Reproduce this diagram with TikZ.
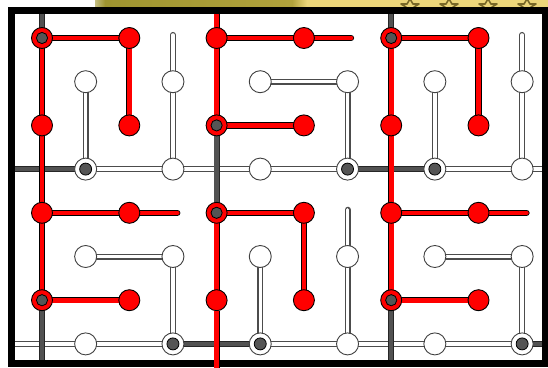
\documentclass[tikz,border=0pt]{standalone}
\definecolor{gline}{RGB}{82,82,82}
\definecolor{gdot}{RGB}{85,85,85}
\definecolor{olive1}{RGB}{158,148,48}
\definecolor{olive2}{RGB}{176,162,60}
\definecolor{yel}{RGB}{236,214,122}
\definecolor{starc}{RGB}{120,104,40}
\pgfdeclarelayer{back}
\pgfdeclarelayer{wl}
\pgfdeclarelayer{gl}
\pgfdeclarelayer{rl}
\pgfdeclarelayer{fg}
\pgfsetlayers{back,wl,gl,rl,main,fg}
\tikzset{
  redline/.style={draw=black, line width=0.8pt, double=red, double distance=4.6pt, line cap=round, line join=round},
  whiteline/.style={draw=black!70, line width=1.3pt, double=white, double distance=3.4pt, line cap=round, line join=round},
  grayline/.style={draw=black!85, line width=0.8pt, double=gline, double distance=4.4pt},
  rn/.style={circle, fill=red, draw=black, line width=0.9pt, minimum size=21pt, inner sep=0pt},
  rg/.style={rn, path picture={\fill[gdot, draw=black, line width=0.8pt] (path picture bounding box.center) circle (5.6pt);}},
  wn/.style={circle, fill=white, draw=black!75, line width=0.9pt, minimum size=22pt, inner sep=0pt},
  wg/.style={wn, path picture={\fill[gdot, draw=black, line width=0.8pt] (path picture bounding box.center) circle (6pt);}},
  frame/.style={draw=black, line width=7pt}
}
\begin{document}
\begin{tikzpicture}[x=1pt, y=-1pt]
\useasboundingbox (0,0) rectangle (548,367);
\begin{pgfonlayer}{back}
\fill[white] (0,0) rectangle (548,367);
% screenshot band above the frame
\shade[left color=olive1!60!white, right color=olive1] (95,0) rectangle (105,7);
\shade[left color=olive1, right color=olive2] (105,0) rectangle (292,7);
\shade[left color=olive2, right color=yel] (292,0) rectangle (307,7);
\fill[yel] (307,0) rectangle (548,7);
\begin{scope}
\clip (380,0) rectangle (548,7);
\foreach \sx in {410,449,488,527}{
  \draw[starc, line width=1.6pt, line join=round] (\sx,-1)
    -- ++(-3,5) -- ++(-6,0) -- ++(5,3) -- ++(-2,6) -- ++(6,-4) -- ++(6,4) -- ++(-2,-6) -- ++(5,-3) -- ++(-6,0) -- cycle;
}
\end{scope}
\end{pgfonlayer}
% frame reference coordinates
\coordinate (T) at (0,10.5);
\coordinate (B) at (0,363.5);
\coordinate (Bimg) at (0,368);
\coordinate (L) at (11.5,0);
\coordinate (R) at (545,0);
\begin{scope}[shift={(42,38)}, x=43.65pt, y=-43.7pt]
% ---- nodes ----
\path
  (0,0) node[rg] (c0r0) {} (2,0) node[rn] (c2r0) {} (4,0) node[rn] (c4r0) {}
  (6,0) node[rn] (c6r0) {} (8,0) node[rg] (c8r0) {} (10,0) node[rn] (c10r0) {}
  (1,1) node[wn] (c1r1) {} (3,1) node[wn] (c3r1) {} (5,1) node[wn] (c5r1) {}
  (7,1) node[wn] (c7r1) {} (9,1) node[wn] (c9r1) {} (11,1) node[wn] (c11r1) {}
  (0,2) node[rn] (c0r2) {} (2,2) node[rn] (c2r2) {} (4,2) node[rg] (c4r2) {}
  (6,2) node[rn] (c6r2) {} (8,2) node[rn] (c8r2) {} (10,2) node[rn] (c10r2) {}
  (1,3) node[wg] (c1r3) {} (3,3) node[wn] (c3r3) {} (5,3) node[wn] (c5r3) {}
  (7,3) node[wg] (c7r3) {} (9,3) node[wg] (c9r3) {} (11,3) node[wn] (c11r3) {}
  (0,4) node[rn] (c0r4) {} (2,4) node[rn] (c2r4) {} (4,4) node[rg] (c4r4) {}
  (6,4) node[rn] (c6r4) {} (8,4) node[rn] (c8r4) {} (10,4) node[rn] (c10r4) {}
  (1,5) node[wn] (c1r5) {} (3,5) node[wn] (c3r5) {} (5,5) node[wn] (c5r5) {}
  (7,5) node[wn] (c7r5) {} (9,5) node[wn] (c9r5) {} (11,5) node[wn] (c11r5) {}
  (0,6) node[rg] (c0r6) {} (2,6) node[rn] (c2r6) {} (4,6) node[rn] (c4r6) {}
  (6,6) node[rn] (c6r6) {} (8,6) node[rg] (c8r6) {} (10,6) node[rn] (c10r6) {}
  (1,7) node[wn] (c1r7) {} (3,7) node[wg] (c3r7) {} (5,7) node[wg] (c5r7) {}
  (7,7) node[wn] (c7r7) {} (9,7) node[wn] (c9r7) {} (11,7) node[wg] (c11r7) {};
% free ends
\coordinate (e3t) at (3,-0.07);
\coordinate (e11t) at (11,-0.07);
\coordinate (e7t) at (7,3.93);
\coordinate (e0r) at (7.08,0);
\coordinate (e4r) at (3.1,4);
\coordinate (e4r2) at (11.1,4);
\end{scope}
% ---- white tree ----
\begin{pgfonlayer}{wl}
\draw[whiteline] (c1r1.center) -- (c1r3.center);
\draw[whiteline] (e3t) -- (c3r1.center) -- (c3r3.center);
\draw[whiteline] (c1r3.center) -- (c7r3.center);
\draw[whiteline, line cap=butt] (c9r3.center) -- (c11r3.center) -- (c11r3 -| R);
\draw[whiteline] (c5r1.center) -- (c7r1.center) -- (c7r3.center);
\draw[whiteline] (c9r1.center) -- (c9r3.center);
\draw[whiteline] (e11t) -- (c11r1.center) -- (c11r3.center);
\draw[whiteline] (e7t) -- (c7r5.center) -- (c7r7.center);
\draw[whiteline] (c1r5.center) -- (c3r5.center) -- (c3r7.center);
\draw[whiteline] (c5r5.center) -- (c5r7.center);
\draw[whiteline] (c9r5.center) -- (c11r5.center) -- (c11r7.center);
\draw[whiteline, line cap=butt] (c1r7 -| L) -- (c1r7.center) -- (c3r7.center);
\draw[whiteline] (c5r7.center) -- (c11r7.center);
\end{pgfonlayer}
% ---- gray lattice ----
\begin{pgfonlayer}{gl}
\draw[grayline] (c1r3 -| L) -- (c1r3.center);
\draw[grayline] (c7r3.center) -- (c9r3.center);
\draw[grayline] (c3r7.center) -- (c5r7.center);
\draw[grayline] (c11r7.center) -- (c11r7 -| R);
\draw[grayline] (c0r0 |- T) -- (c0r0.center);
\draw[grayline] (c8r0 |- T) -- (c8r0.center);
\draw[grayline] (c0r6.center) -- (c0r6 |- B);
\draw[grayline] (c8r6.center) -- (c8r6 |- B);
\draw[grayline] (c4r2.center) -- (c4r4.center);
\end{pgfonlayer}
% ---- red tree ----
\begin{pgfonlayer}{rl}
\draw[redline] (c0r0.center) -- (c0r6.center);
\draw[redline] (c0r0.center) -- (c2r0.center) -- (c2r2.center);
\draw[redline, line cap=butt] (c4r0 |- T) -- (c4r0.center) -- (c4r2.center);
\draw[redline] (c4r0.center) -- (e0r);
\draw[redline] (c4r2.center) -- (c6r2.center);
\draw[redline] (c8r0.center) -- (c8r6.center);
\draw[redline] (c8r0.center) -- (c10r0.center) -- (c10r2.center);
\draw[redline] (c0r4.center) -- (e4r);
\draw[redline] (c0r6.center) -- (c2r6.center);
\draw[redline] (c4r4.center) -- (c4r6.center);
\draw[redline] (c4r4.center) -- (c6r4.center) -- (c6r6.center);
\draw[redline] (c8r4.center) -- (e4r2);
\draw[redline] (c8r6.center) -- (c10r6.center);
\end{pgfonlayer}
% ---- frame and the red line crossing it ----
\begin{pgfonlayer}{fg}
\draw[frame] (L |- T) rectangle (R |- B);
\draw[redline, line cap=butt] (c4r6.south) -- (c4r6 |- Bimg);
\end{pgfonlayer}
\end{tikzpicture}
\end{document}
